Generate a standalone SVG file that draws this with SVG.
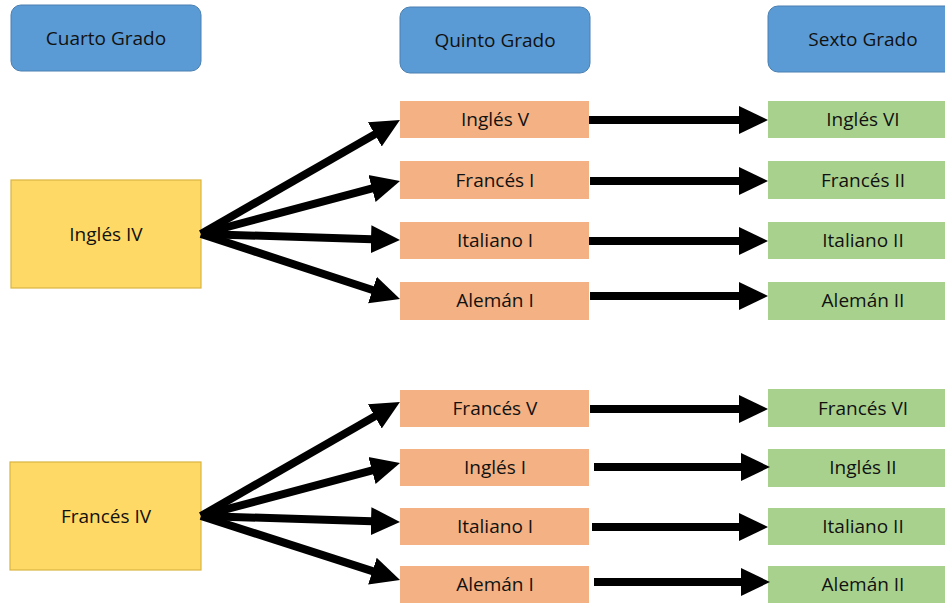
<svg xmlns="http://www.w3.org/2000/svg" width="945" height="603" viewBox="0 0 945 603">
<defs>
<style>
.hdr{fill:#5B9BD5;stroke:#4A7FB0;stroke-width:1}
.yel{fill:#FFD966;stroke:#D9B440;stroke-width:1.2}
.org{fill:#F4B183}
.grn{fill:#A9D18E}
text{font-family:"Open Sans","Liberation Sans",sans-serif;font-size:19px;fill:#111;text-anchor:middle}
.cn line{stroke:#000;stroke-width:8;marker-end:url(#ah)}
</style>
<marker id="ah" markerUnits="userSpaceOnUse" markerWidth="30" markerHeight="30" refX="9" refY="15" orient="auto">
<path d="M0,1 L29,15 L0,29 z" fill="#000"/>
</marker>
</defs>
<rect width="945" height="603" fill="#fff"/>

<g id="cuarto"><rect class="hdr" x="11" y="5" width="190" height="66" rx="10"/><text x="106" y="45">Cuarto Grado</text></g>
<g id="quinto"><rect class="hdr" x="400" y="7" width="190" height="66" rx="10"/><text x="495" y="47">Quinto Grado</text></g>
<g id="sexto"><rect class="hdr" x="768" y="6" width="190" height="66" rx="10"/><text x="863" y="46">Sexto Grado</text></g>

<g id="ingles4"><rect class="yel" x="11" y="180" width="190" height="108"/><text x="106" y="241">Inglés IV</text></g>
<g id="frances4"><rect class="yel" x="10" y="462" width="191" height="108"/><text x="106" y="523">Francés IV</text></g>

<g id="o1"><rect class="org" x="400" y="101" width="189" height="37"/><text x="495" y="126">Inglés V</text></g>
<g id="o2"><rect class="org" x="400" y="161" width="189" height="38"/><text x="495" y="187">Francés I</text></g>
<g id="o3"><rect class="org" x="400" y="222" width="189" height="37"/><text x="495" y="247">Italiano I</text></g>
<g id="o4"><rect class="org" x="400" y="282" width="189" height="38"/><text x="495" y="307">Alemán I</text></g>
<g id="o5"><rect class="org" x="400" y="390" width="189" height="37"/><text x="495" y="415">Francés V</text></g>
<g id="o6"><rect class="org" x="400" y="449" width="189" height="37"/><text x="495" y="474">Inglés I</text></g>
<g id="o7"><rect class="org" x="400" y="508" width="189" height="37"/><text x="495" y="533">Italiano I</text></g>
<g id="o8"><rect class="org" x="400" y="566" width="189" height="37"/><text x="495" y="591">Alemán I</text></g>

<g id="g1"><rect class="grn" x="768" y="101" width="190" height="37"/><text x="863" y="126">Inglés VI</text></g>
<g id="g2"><rect class="grn" x="768" y="161" width="190" height="38"/><text x="863" y="187">Francés II</text></g>
<g id="g3"><rect class="grn" x="768" y="222" width="190" height="37"/><text x="863" y="247">Italiano II</text></g>
<g id="g4"><rect class="grn" x="768" y="282" width="190" height="38"/><text x="863" y="307">Alemán II</text></g>
<g id="g5"><rect class="grn" x="768" y="389" width="190" height="38"/><text x="863" y="415">Francés VI</text></g>
<g id="g6"><rect class="grn" x="768" y="449" width="190" height="38"/><text x="863" y="474">Inglés II</text></g>
<g id="g7"><rect class="grn" x="768" y="508" width="190" height="37"/><text x="863" y="533">Italiano II</text></g>
<g id="g8"><rect class="grn" x="768" y="566" width="190" height="37"/><text x="863" y="591">Alemán II</text></g>

<g id="connectors" class="cn">
<line x1="201" y1="234" x2="382.6" y2="129.9"/>
<line x1="201" y1="234" x2="380.7" y2="186.1"/>
<line x1="201" y1="234" x2="380.0" y2="239.4"/>
<line x1="201" y1="234" x2="381.0" y2="292.8"/>
<line x1="201" y1="516" x2="382.6" y2="411.9"/>
<line x1="201" y1="516" x2="380.7" y2="468.1"/>
<line x1="201" y1="516" x2="380.0" y2="521.4"/>
<line x1="201" y1="516" x2="381.0" y2="573.9"/>
<line x1="589" y1="120" x2="748" y2="120"/>
<line x1="590" y1="181" x2="748" y2="181"/>
<line x1="589" y1="241" x2="748" y2="241"/>
<line x1="590" y1="296" x2="748" y2="296"/>
<line x1="590" y1="409" x2="748" y2="409"/>
<line x1="594" y1="467" x2="750" y2="467"/>
<line x1="592" y1="527" x2="748" y2="527"/>
<line x1="594" y1="582" x2="750" y2="582"/>
</g>
</svg>
